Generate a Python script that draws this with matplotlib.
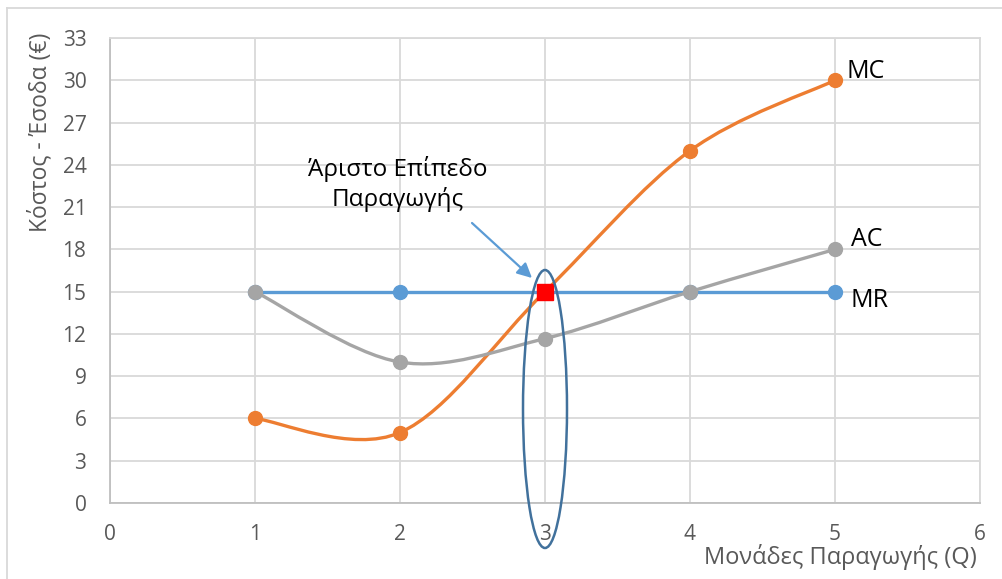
import matplotlib
matplotlib.use("Agg")
import matplotlib.pyplot as plt
from matplotlib.path import Path
from matplotlib.patches import PathPatch, Ellipse
from matplotlib.lines import Line2D

plt.rcParams['font.family'] = ['Open Sans', 'DejaVu Sans']

q = [1, 2, 3, 4, 5]
mc = [6, 5, 15, 25, 30]
ac = [15, 10, 11.67, 15, 18]
mr = [15, 15, 15, 15, 15]
optimum_q = [3]
optimum_v = [15]
x_ticks = [0, 1, 2, 3, 4, 5, 6]
y_ticks = [0, 3, 6, 9, 12, 15, 18, 21, 24, 27, 30, 33]

C_MC = '#ED7D31'
C_AC = '#A5A5A5'
C_MR = '#5B9BD5'
GRID = '#D9D9D9'
TXT = '#595959'


def smooth_path(xs, ys):
    pts = list(zip(xs, ys))
    n = len(pts)
    verts = [pts[0]]
    codes = [Path.MOVETO]
    for i in range(n - 1):
        p0 = pts[i - 1] if i > 0 else pts[i]
        p1 = pts[i]
        p2 = pts[i + 1]
        p3 = pts[i + 2] if i + 2 < n else pts[i + 1]
        c1 = (p1[0] + (p2[0] - p0[0]) / 6, p1[1] + (p2[1] - p0[1]) / 6)
        c2 = (p2[0] - (p3[0] - p1[0]) / 6, p2[1] - (p3[1] - p1[1]) / 6)
        verts += [c1, c2, p2]
        codes += [Path.CURVE4] * 3
    return Path(verts, codes)


fig = plt.figure(figsize=(10.03, 5.79), dpi=100)
ax = fig.add_axes([110 / 1003, 76 / 579, 870 / 1003, 465 / 579])

ax.set_xlim(0, 6)
ax.set_ylim(0, 33)
ax.set_xticks(x_ticks)
ax.set_yticks(y_ticks)
ax.grid(True, color=GRID, linewidth=1.3, zorder=0)
ax.set_axisbelow(True)
for s in ['top', 'right']:
    ax.spines[s].set_color(GRID)
    ax.spines[s].set_linewidth(1.3)
for s in ['left', 'bottom']:
    ax.spines[s].set_color('#BFBFBF')
    ax.spines[s].set_linewidth(1.3)
ax.tick_params(length=0, labelsize=15, labelcolor=TXT)
ax.tick_params(axis='x', pad=15)
ax.tick_params(axis='y', pad=17)

# MC
ax.add_patch(PathPatch(smooth_path(q, mc), fill=False, edgecolor=C_MC, linewidth=2.4, zorder=3))
ax.plot(q, mc, linestyle='none', marker='o', markersize=10, color=C_MC, zorder=4)
# MR
ax.plot(q, mr, color=C_MR, linewidth=2.4, marker='o', markersize=10, zorder=5)
# AC
ax.add_patch(PathPatch(smooth_path(q, ac), fill=False, edgecolor=C_AC, linewidth=2.4, zorder=6))
ax.plot(q, ac, linestyle='none', marker='o', markersize=10, color=C_AC, zorder=7)
# optimum
ax.plot(optimum_q, optimum_v, linestyle='none', marker='s', markersize=11, color='#FF0000', zorder=8)

# ellipse around Q=3
ell = Ellipse((3, 33 * (503 - 409) / 465), width=6 * 44 / 870, height=33 * 278 / 465,
              fill=False, edgecolor='#41719C', linewidth=1.8, zorder=9, clip_on=False)
ax.add_patch(ell)

# annotation arrow and text
ax.annotate('', xy=(532, 579 - 278), xycoords='figure pixels', xytext=(472, 579 - 223),
            textcoords='figure pixels',
            arrowprops=dict(arrowstyle='-|>', color=C_MR, linewidth=1.6, mutation_scale=22,
                            shrinkA=0, shrinkB=0),
            zorder=10)
fig.text(398 / 1003, 1 - 184 / 579, 'Άριστο Επίπεδο\nΠαραγωγής', ha='center', va='center',
         fontsize=17.5, color='black', linespacing=1.3)

# series labels
ax.text(5.08, 30.6, 'MC', fontsize=18, color='black', ha='left', va='center')
ax.text(5.11, 18.7, 'AC', fontsize=18, color='black', ha='left', va='center')
ax.text(5.11, 14.4, 'MR', fontsize=18, color='black', ha='left', va='center')

# axis titles
fig.text(40 / 1003, 1 - 132 / 579, 'Κόστος - Έσοδα (€)', rotation=90, ha='center', va='center',
         fontsize=16.5, color=TXT)
fig.text(977 / 1003, 1 - 557 / 579, 'Μονάδες Παραγωγής (Q)', ha='right', va='center',
         fontsize=17, color=TXT)

# chart border (left and top visible)
fig.add_artist(Line2D([7 / 1003, 7 / 1003], [0, 1 - 8 / 579], transform=fig.transFigure,
                      color=GRID, linewidth=1.3))
fig.add_artist(Line2D([7 / 1003, 1], [1 - 8 / 579, 1 - 8 / 579], transform=fig.transFigure,
                      color=GRID, linewidth=1.3))

fig.savefig('out.png', dpi=100)
